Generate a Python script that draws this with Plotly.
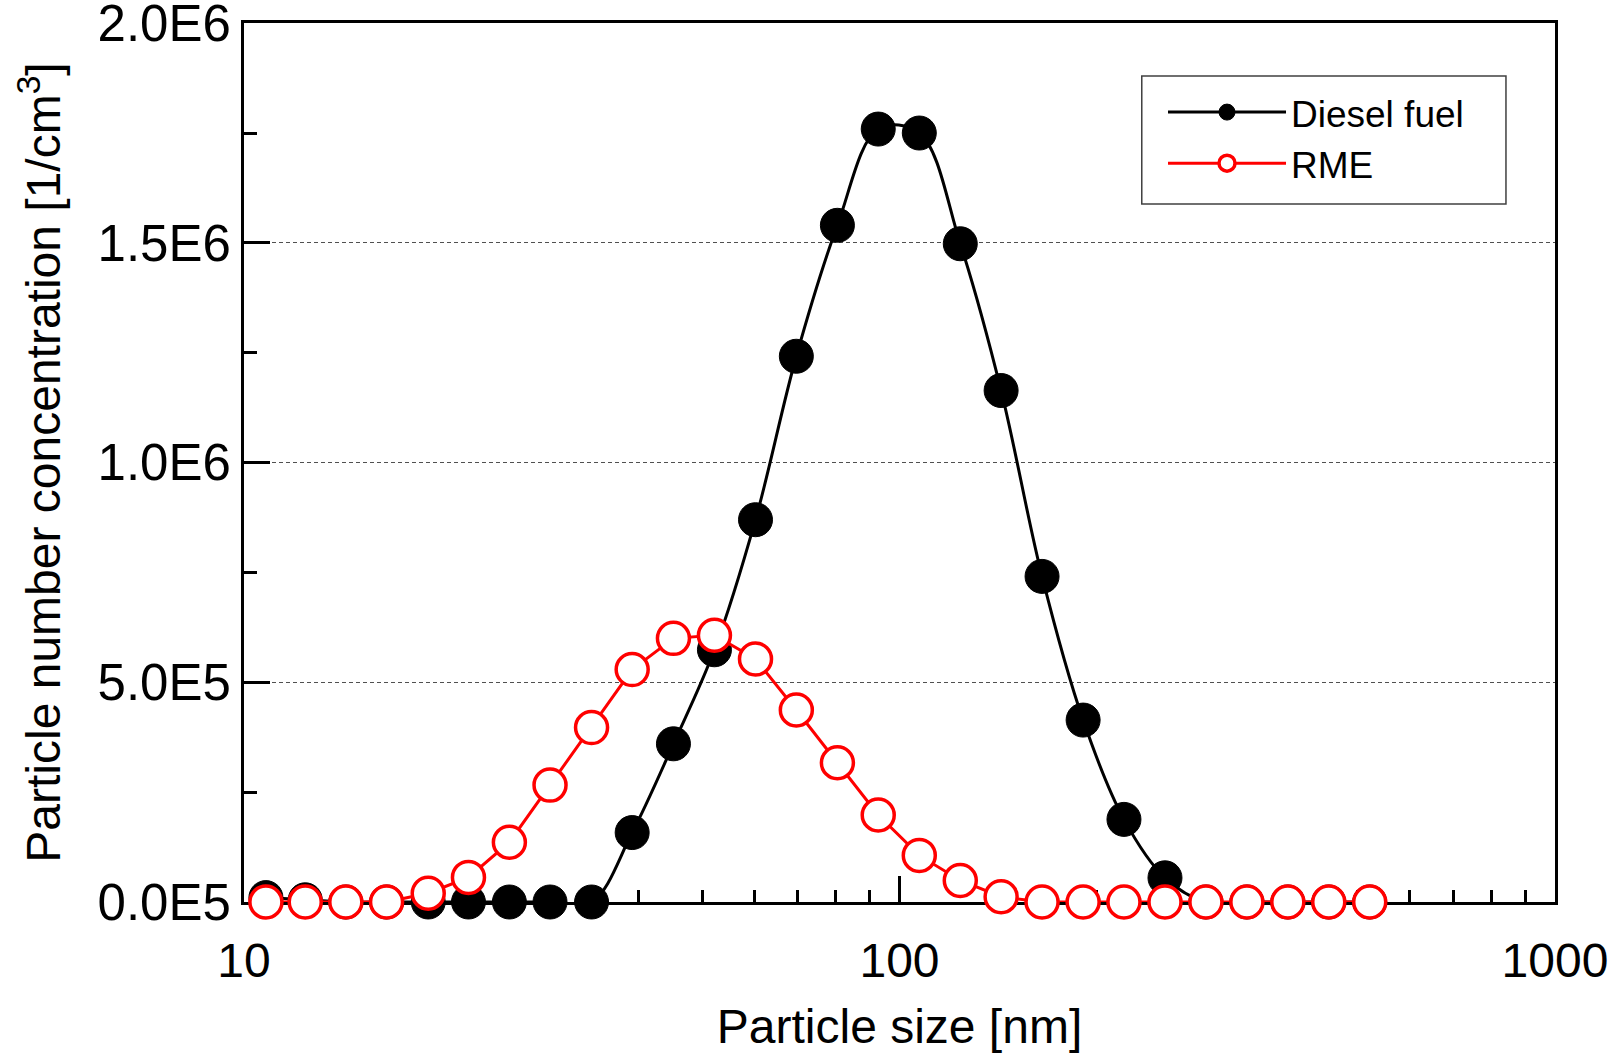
import plotly.graph_objects as go

# ---- data ----
diesel_size = [10.8, 12.4, 14.3, 16.5, 19.1, 22.0, 25.4, 29.3, 33.9, 39.1, 45.2, 52.2,
               60.3, 69.6, 80.4, 92.8, 107.2, 123.8, 142.9, 165.0, 190.6, 220.0, 254.1,
               293.4, 338.8, 391.2, 451.7, 521.6]
diesel_conc = [1.0e4, 5.0e3, 0, 0, 0, 0, 0, 0, 0, 1.58e5, 3.60e5, 5.74e5,
               8.70e5, 1.242e6, 1.540e6, 1.759e6, 1.750e6, 1.498e6, 1.164e6, 7.41e5, 4.14e5, 1.88e5, 5.5e4,
               0, 0, 0, 0, 0]

rme_size = [10.8, 12.4, 14.3, 16.5, 19.1, 22.0, 25.4, 29.3, 33.9, 39.1, 45.2, 52.2,
            60.3, 69.6, 80.4, 92.8, 107.2, 123.8, 142.9, 165.0, 190.6, 220.0, 254.1,
            293.4, 338.8, 391.2, 451.7, 521.6]
rme_conc = [0, 0, 0, 0, 2.0e4, 5.6e4, 1.36e5, 2.66e5, 3.97e5, 5.29e5, 6.00e5, 6.07e5,
            5.53e5, 4.37e5, 3.17e5, 1.98e5, 1.06e5, 4.9e4, 1.2e4, 0, 0, 0, 0,
            0, 0, 0, 0, 0]

x_tickvals = [10, 100, 1000]
x_ticktext = ["10", "100", "1000"]
x_minorvals = [20, 30, 40, 50, 60, 70, 80, 90, 200, 300, 400, 500, 600, 700, 800, 900]
y_tickvals = [0, 5e5, 1e6, 1.5e6, 2e6]
y_ticktext = ["0.0E5", "5.0E5", "1.0E6", "1.5E6", "2.0E6"]
y_minorvals = [2.5e5, 7.5e5, 1.25e6, 1.75e6]

FONT = "Liberation Sans, Arial, sans-serif"

fig = go.Figure()
fig.add_trace(go.Scatter(
    x=diesel_size, y=diesel_conc, name="Diesel fuel", mode="lines+markers",
    line=dict(color="black", width=3, shape="spline", smoothing=1.0),
    marker=dict(symbol="circle", size=34, color="black", line=dict(color="black", width=1)),
    cliponaxis=False, legendgroup="a",
))
fig.add_trace(go.Scatter(
    x=rme_size, y=rme_conc, name="RME", mode="lines+markers",
    line=dict(color="#FF0000", width=3),
    marker=dict(symbol="circle", size=32, color="white", line=dict(color="#FF0000", width=3.5)),
    cliponaxis=False, legendgroup="b",
))

fig.update_layout(
    width=1618, height=1053,
    margin=dict(l=244, r=63, t=23, b=151, pad=0),
    paper_bgcolor="white", plot_bgcolor="white",
    font=dict(family=FONT, color="black", size=45),
    showlegend=True,
    legend=dict(
        x=0.701, y=0.9334, xanchor="left", yanchor="top",
        bgcolor="rgba(0,0,0,0)", borderwidth=0,
        font=dict(family=FONT, size=37, color="black"),
        tracegroupgap=0, traceorder="grouped", itemwidth=118,
    ),
    shapes=[dict(type="rect", xref="paper", yref="paper",
                 x0=0.6848, x1=0.9626, y0=0.794, y1=0.9397,
                 line=dict(color="#404040", width=1.5), fillcolor="white", layer="above")],
)

fig.update_xaxes(
    type="log", range=[1, 3], automargin=False,
    tickvals=x_tickvals, ticktext=x_ticktext,
    ticks="inside", ticklen=26, tickwidth=3, tickcolor="black",
    tickfont=dict(family=FONT, size=48, color="black"),
    ticklabelstandoff=14,
    minor=dict(tickvals=x_minorvals, ticks="inside", ticklen=12, tickwidth=2.5,
               tickcolor="black", showgrid=False),
    showline=True, linecolor="black", linewidth=3, mirror=True,
    showgrid=False, zeroline=False, layer="below traces",
    title=dict(text="Particle size [nm]", font=dict(family=FONT, size=48, color="black"), standoff=24),
)
fig.update_yaxes(
    range=[0, 2.0004e6], automargin=False,
    tickvals=y_tickvals, ticktext=y_ticktext,
    ticks="inside", ticklen=26, tickwidth=3, tickcolor="black",
    tickfont=dict(family=FONT, size=51, color="black"),
    ticklabeloverflow="allow",
    minor=dict(tickvals=y_minorvals, ticks="inside", ticklen=13, tickwidth=2.5,
               tickcolor="black", showgrid=False),
    showline=True, linecolor="black", linewidth=3, mirror=True,
    showgrid=True, gridcolor="#505050", gridwidth=1, griddash="4px,3px",
    zeroline=False, layer="below traces",
    title=dict(text="Particle number concentration [1/cm<sup>3</sup>]",
               font=dict(family=FONT, size=48, color="black"), standoff=22),
)

fig.write_html("out.html")
